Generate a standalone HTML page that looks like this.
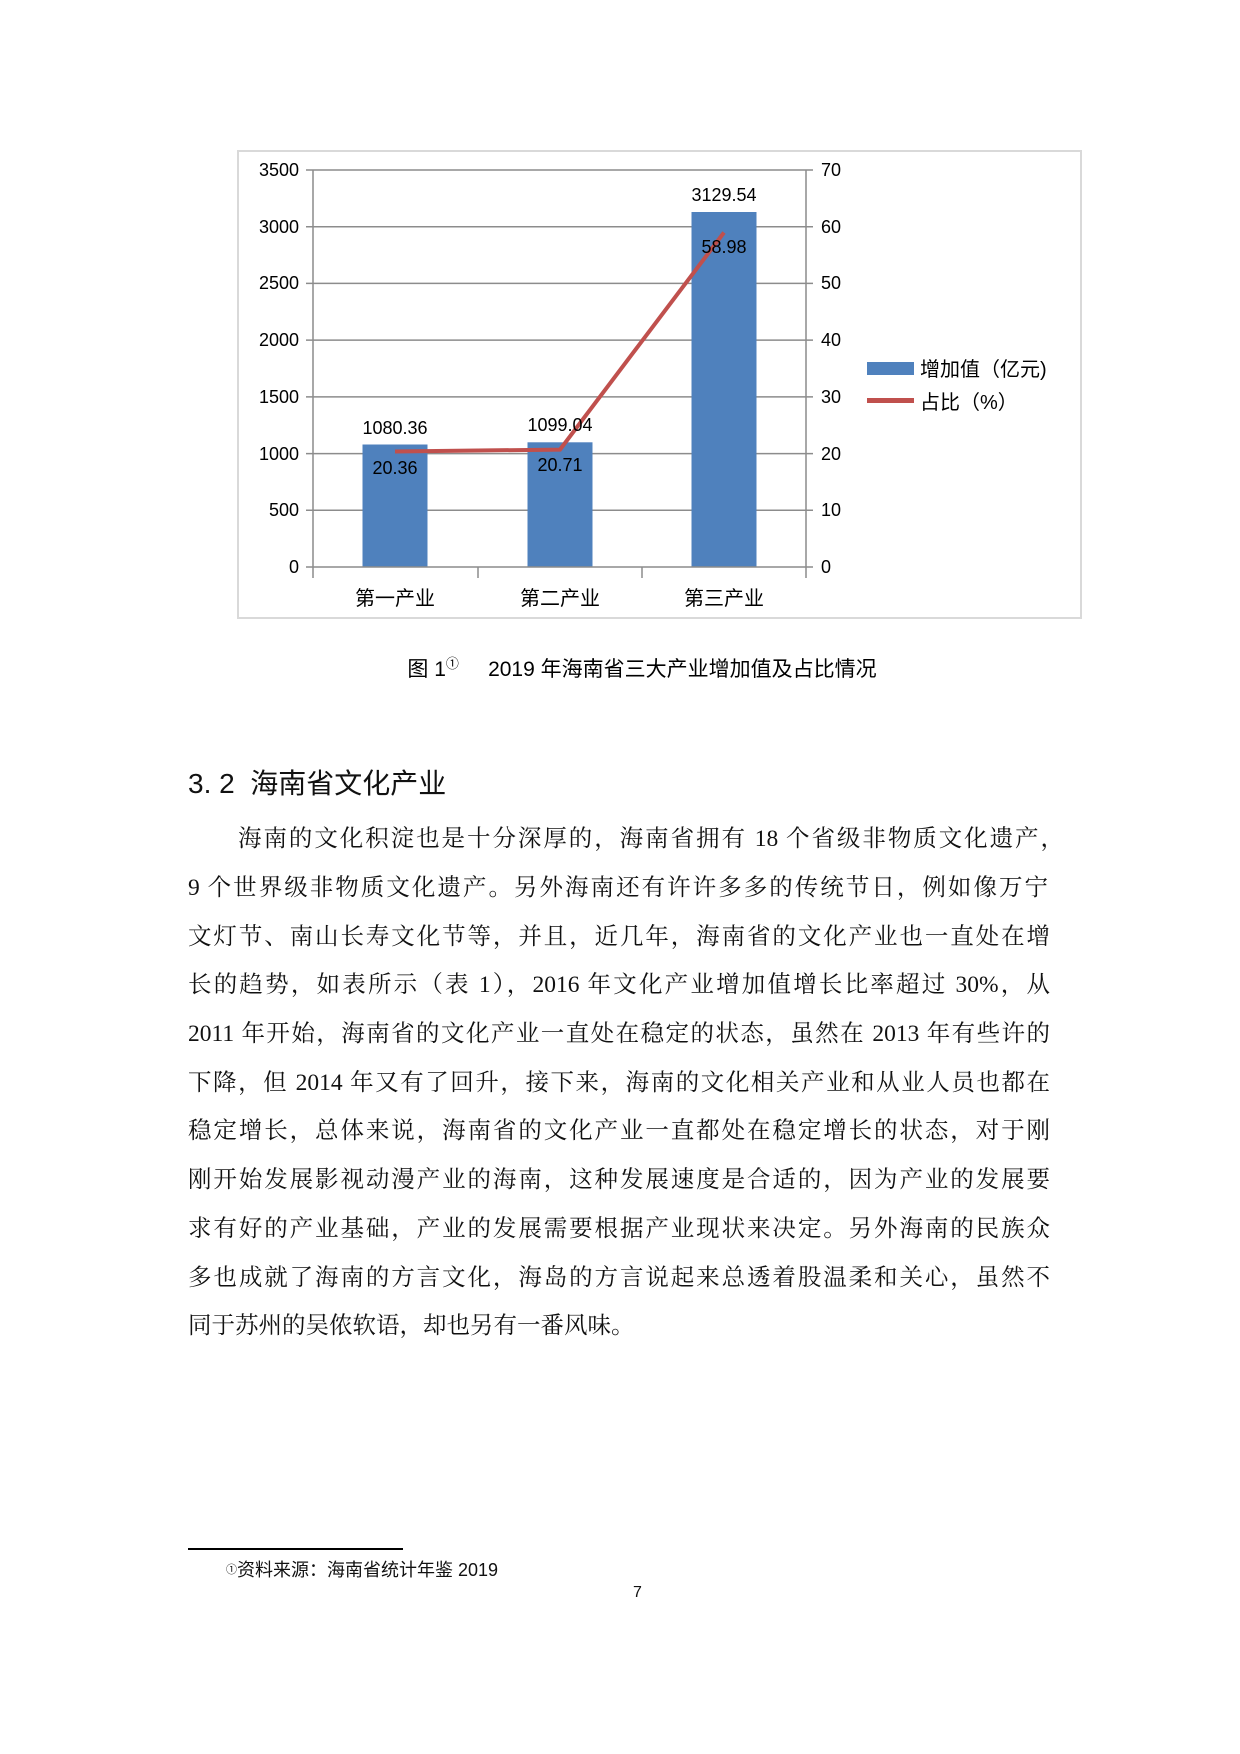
<!DOCTYPE html>
<html><head><meta charset="utf-8"><style>
body{margin:0;background:#fff;}
.page{position:relative;width:1240px;height:1754px;background:#fff;overflow:hidden;}
.s{font-family:"Liberation Sans","Noto Sans CJK SC",sans-serif;}
.serif{font-family:"Liberation Serif","Noto Serif CJK SC",serif;}
.ln{position:absolute;left:188px;width:868px;font-size:23.5px;line-height:30px;text-align:justify;text-align-last:justify;white-space:nowrap;color:#111;}
</style></head><body><div class="page">
<svg width="1240" height="700" style="position:absolute;left:0;top:0" font-family="Liberation Sans, Noto Sans CJK SC, sans-serif">
<rect x="238" y="151" width="843" height="467" fill="#fff" stroke="#d9d9d9" stroke-width="2"/>
<g stroke="#8c8c8c" stroke-width="1.5">
<line x1="306" y1="170" x2="813" y2="170"/><line x1="306" y1="226.7" x2="813" y2="226.7"/><line x1="306" y1="283.4" x2="813" y2="283.4"/><line x1="306" y1="340.1" x2="813" y2="340.1"/><line x1="306" y1="396.9" x2="813" y2="396.9"/><line x1="306" y1="453.6" x2="813" y2="453.6"/><line x1="306" y1="510.3" x2="813" y2="510.3"/>
<line x1="313" y1="170" x2="313" y2="578"/><line x1="806" y1="170" x2="806" y2="578"/>
<line x1="478" y1="567" x2="478" y2="578"/><line x1="642" y1="567" x2="642" y2="578"/>
</g>
<g fill="#4f81bd"><rect x="362.5" y="444.5" width="65" height="122.5"/><rect x="527.5" y="442.3" width="65" height="124.7"/><rect x="691.5" y="212" width="65" height="355"/></g>
<line x1="306" y1="567" x2="813" y2="567" stroke="#8c8c8c" stroke-width="1.5"/>
<polyline points="395,451.5 560,449.6 724,232.5" fill="none" stroke="#c0504d" stroke-width="4"/>
<g font-size="18" fill="#000" text-anchor="end">
<text x="299" y="176">3500</text><text x="299" y="233">3000</text><text x="299" y="289">2500</text><text x="299" y="346">2000</text><text x="299" y="403">1500</text><text x="299" y="460">1000</text><text x="299" y="516">500</text><text x="299" y="573">0</text>
</g>
<g font-size="18" fill="#000">
<text x="821" y="176">70</text><text x="821" y="233">60</text><text x="821" y="289">50</text><text x="821" y="346">40</text><text x="821" y="403">30</text><text x="821" y="460">20</text><text x="821" y="516">10</text><text x="821" y="573">0</text>
</g>
<g font-size="18" fill="#000" text-anchor="middle">
<text x="395" y="434">1080.36</text><text x="560" y="431">1099.04</text><text x="724" y="201">3129.54</text>
<text x="395" y="474">20.36</text><text x="560" y="471">20.71</text><text x="724" y="253">58.98</text>
</g>
<g font-size="20" fill="#000" text-anchor="middle">
<text x="395" y="605">第一产业</text><text x="560" y="605">第二产业</text><text x="724" y="605">第三产业</text>
</g>
<rect x="867" y="362" width="47" height="13" fill="#4f81bd"/>
<rect x="867" y="398" width="47" height="5" fill="#c0504d"/>
<text x="920" y="376" font-size="20">增加值（亿元)</text>
<text x="920" y="409" font-size="20">占比（%）</text>
<text x="642" y="676" font-size="21" text-anchor="middle">图 1<tspan font-size="13" dy="-8">①</tspan><tspan dy="8">&#160;&#160;&#160;&#160;&#160;2019 年海南省三大产业增加值及占比情况</tspan></text>
</svg>
<div class="s" style="position:absolute;left:188px;top:767px;font-size:28px;line-height:34px;color:#111;">3.&#160;2&#160;&#160;海南省文化产业</div>
<div class="serif">
<div class="ln" style="top:824px;left:238px;width:826px;">海南的文化积淀也是十分深厚的，海南省拥有 18 个省级非物质文化遗产，</div>
<div class="ln" style="top:873px;width:860px;">9 个世界级非物质文化遗产。另外海南还有许许多多的传统节日，例如像万宁</div>
<div class="ln" style="top:922px;width:862px;">文灯节、南山长寿文化节等，并且，近几年，海南省的文化产业也一直处在增</div>
<div class="ln" style="top:970px;width:862px;">长的趋势，如表所示（表 1），2016 年文化产业增加值增长比率超过 30%，从</div>
<div class="ln" style="top:1019px;width:862px;">2011 年开始，海南省的文化产业一直处在稳定的状态，虽然在 2013 年有些许的</div>
<div class="ln" style="top:1068px;width:862px;">下降，但 2014 年又有了回升，接下来，海南的文化相关产业和从业人员也都在</div>
<div class="ln" style="top:1116px;width:862px;">稳定增长，总体来说，海南省的文化产业一直都处在稳定增长的状态，对于刚</div>
<div class="ln" style="top:1165px;width:862px;">刚开始发展影视动漫产业的海南，这种发展速度是合适的，因为产业的发展要</div>
<div class="ln" style="top:1214px;width:862px;">求有好的产业基础，产业的发展需要根据产业现状来决定。另外海南的民族众</div>
<div class="ln" style="top:1263px;width:862px;">多也成就了海南的方言文化，海岛的方言说起来总透着股温柔和关心，虽然不</div>
<div class="ln" style="top:1311px;text-align:left;text-align-last:left;">同于苏州的吴侬软语，却也另有一番风味。</div>
</div>
<div style="position:absolute;left:188px;top:1548px;width:215px;height:1.5px;background:#000;"></div>
<div class="s" style="position:absolute;left:226px;top:1559px;font-size:18px;line-height:22px;color:#111;"><span style="font-size:11px;vertical-align:top">①</span>资料来源：海南省统计年鉴 2019</div>
<div class="s" style="position:absolute;left:633px;top:1584px;font-size:16px;line-height:18px;color:#111;">7</div>
</div></body></html>
